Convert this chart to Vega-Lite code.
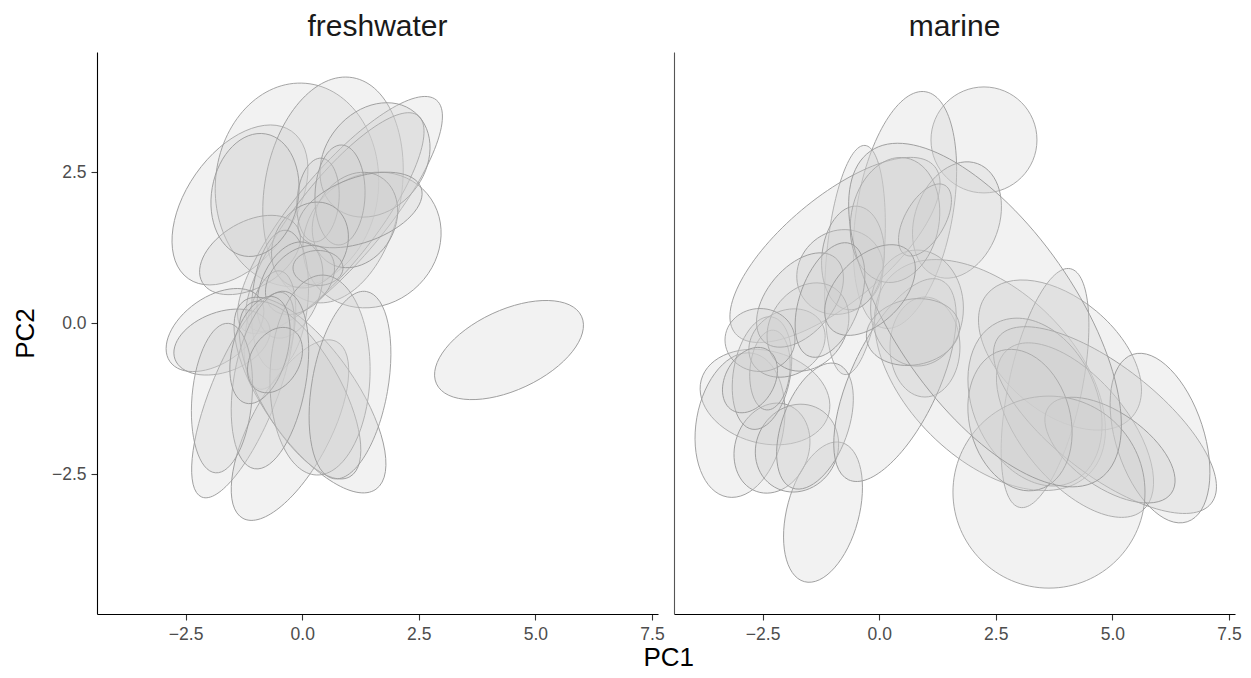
{
  "$schema": "https://vega.github.io/schema/vega-lite/v6.json",
  "padding": {"left": 12, "top": 12, "right": 13, "bottom": 7},
  "background": "white",
  "bounds": "flush",
  "spacing": 16,
  "config": {
    "view": {"stroke": null},
    "font": "Liberation Sans",
    "axis": {"grid": false, "domainColor": "#000000", "domainWidth": 1.1, "tickColor": "#333333", "tickSize": 6, "tickWidth": 1.1, "labelFont": "Liberation Sans", "labelFontSize": 17.5, "labelColor": "#4d4d4d", "labelPadding": 5, "titleFont": "Liberation Sans", "titleFontSize": 26, "titleFontWeight": "normal", "titleColor": "#000000"},
    "title": {"font": "Liberation Sans", "fontWeight": "normal"}
  },
  "title": {"text": "PC1", "orient": "bottom", "anchor": "middle", "frame": "bounds", "dx": 42, "fontSize": 26, "color": "#000000", "offset": 2},
  "data": {"values": [
    {"habitat":"freshwater","pc1":-1.334,"pc2":1.959,"len":3.860,"ratio":"0.6","tilt":55},
    {"habitat":"freshwater","pc1":-0.112,"pc2":2.290,"len":4.375,"ratio":"0.8","tilt":85},
    {"habitat":"freshwater","pc1":0.661,"pc2":2.207,"len":4.890,"ratio":"0.6","tilt":80},
    {"habitat":"freshwater","pc1":0.811,"pc2":1.793,"len":6.434,"ratio":"0.3","tilt":50},
    {"habitat":"freshwater","pc1":0.703,"pc2":1.677,"len":5.790,"ratio":"0.3","tilt":52},
    {"habitat":"freshwater","pc1":1.497,"pc2":1.379,"len":3.088,"ratio":"0.9","tilt":40},
    {"habitat":"freshwater","pc1":1.561,"pc2":2.704,"len":2.659,"ratio":"0.8","tilt":50},
    {"habitat":"freshwater","pc1":1.132,"pc2":1.710,"len":2.145,"ratio":"0.8","tilt":60},
    {"habitat":"freshwater","pc1":0.339,"pc2":2.041,"len":1.801,"ratio":"0.5","tilt":85},
    {"habitat":"freshwater","pc1":0.811,"pc2":2.124,"len":2.145,"ratio":"0.5","tilt":88},
    {"habitat":"freshwater","pc1":1.240,"pc2":1.876,"len":2.788,"ratio":"0.5","tilt":20},
    {"habitat":"freshwater","pc1":-1.119,"pc2":1.131,"len":2.359,"ratio":"0.6","tilt":30},
    {"habitat":"freshwater","pc1":0.167,"pc2":1.296,"len":1.930,"ratio":"0.8","tilt":60},
    {"habitat":"freshwater","pc1":-0.476,"pc2":0.386,"len":3.002,"ratio":"0.4","tilt":85},
    {"habitat":"freshwater","pc1":-0.691,"pc2":-0.111,"len":2.573,"ratio":"0.4","tilt":80},
    {"habitat":"freshwater","pc1":-0.262,"pc2":0.551,"len":2.145,"ratio":"0.6","tilt":70},
    {"habitat":"freshwater","pc1":-0.047,"pc2":0.717,"len":1.716,"ratio":"0.7","tilt":45},
    {"habitat":"freshwater","pc1":0.339,"pc2":0.916,"len":1.072,"ratio":"0.7","tilt":0},
    {"habitat":"freshwater","pc1":-1.870,"pc2":-0.111,"len":2.359,"ratio":"0.6","tilt":35},
    {"habitat":"freshwater","pc1":-1.720,"pc2":-0.310,"len":2.145,"ratio":"0.6","tilt":20},
    {"habitat":"freshwater","pc1":-1.270,"pc2":-1.187,"len":4.718,"ratio":"0.3","tilt":68},
    {"habitat":"freshwater","pc1":-0.262,"pc2":-1.767,"len":4.289,"ratio":"0.4","tilt":62},
    {"habitat":"freshwater","pc1":0.167,"pc2":-1.187,"len":4.932,"ratio":"0.4","tilt":-55},
    {"habitat":"freshwater","pc1":-0.047,"pc2":-1.104,"len":4.289,"ratio":"0.4","tilt":-60},
    {"habitat":"freshwater","pc1":0.382,"pc2":-0.856,"len":4.289,"ratio":"0.5","tilt":88},
    {"habitat":"freshwater","pc1":-0.691,"pc2":-0.939,"len":3.860,"ratio":"0.4","tilt":80},
    {"habitat":"freshwater","pc1":-1.720,"pc2":-1.237,"len":3.217,"ratio":"0.4","tilt":85},
    {"habitat":"freshwater","pc1":-0.905,"pc2":-0.442,"len":2.359,"ratio":"0.5","tilt":75},
    {"habitat":"freshwater","pc1":-0.583,"pc2":-0.608,"len":1.501,"ratio":"0.7","tilt":60},
    {"habitat":"freshwater","pc1":-1.012,"pc2":2.124,"len":2.659,"ratio":"0.7","tilt":80},
    {"habitat":"freshwater","pc1":1.025,"pc2":-1.022,"len":4.075,"ratio":"0.4","tilt":80},
    {"habitat":"freshwater","pc1":4.435,"pc2":-0.442,"len":3.431,"ratio":"0.5","tilt":25},
    {"habitat":"marine","pc1":2.247,"pc2":3.035,"len":2.273,"ratio":"1","tilt":90},
    {"habitat":"marine","pc1":0.553,"pc2":1.876,"len":5.147,"ratio":"0.4","tilt":80},
    {"habitat":"marine","pc1":-0.519,"pc2":1.048,"len":4.932,"ratio":"0.25","tilt":85},
    {"habitat":"marine","pc1":-0.948,"pc2":1.214,"len":5.576,"ratio":"0.4","tilt":40},
    {"habitat":"marine","pc1":1.668,"pc2":1.710,"len":2.573,"ratio":"0.7","tilt":70},
    {"habitat":"marine","pc1":2.376,"pc2":-0.856,"len":6.005,"ratio":"0.6","tilt":-45},
    {"habitat":"marine","pc1":3.877,"pc2":-0.525,"len":4.075,"ratio":"0.6","tilt":-40},
    {"habitat":"marine","pc1":3.556,"pc2":-1.071,"len":5.233,"ratio":"0.3","tilt":78},
    {"habitat":"marine","pc1":3.341,"pc2":-1.303,"len":3.774,"ratio":"0.7","tilt":-65},
    {"habitat":"marine","pc1":4.199,"pc2":-1.767,"len":4.504,"ratio":"0.5","tilt":-50},
    {"habitat":"marine","pc1":4.842,"pc2":-1.601,"len":5.790,"ratio":"0.4","tilt":-38},
    {"habitat":"marine","pc1":6.022,"pc2":-1.899,"len":3.774,"ratio":"0.5","tilt":-72},
    {"habitat":"marine","pc1":4.949,"pc2":-2.098,"len":3.217,"ratio":"0.5","tilt":-35},
    {"habitat":"marine","pc1":3.641,"pc2":-2.793,"len":4.118,"ratio":"1","tilt":0},
    {"habitat":"marine","pc1":0.982,"pc2":-0.392,"len":2.145,"ratio":"0.7","tilt":90},
    {"habitat":"marine","pc1":-1.205,"pc2":-3.124,"len":3.088,"ratio":"0.5","tilt":75},
    {"habitat":"marine","pc1":-2.449,"pc2":-1.220,"len":2.831,"ratio":"0.7","tilt":-15},
    {"habitat":"marine","pc1":-2.985,"pc2":-1.684,"len":3.131,"ratio":"0.6","tilt":80},
    {"habitat":"marine","pc1":-2.299,"pc2":-2.065,"len":1.973,"ratio":"0.8","tilt":70},
    {"habitat":"marine","pc1":-1.763,"pc2":-2.065,"len":1.930,"ratio":"0.9","tilt":60},
    {"habitat":"marine","pc1":-1.377,"pc2":-1.700,"len":2.831,"ratio":"0.5","tilt":70},
    {"habitat":"marine","pc1":-2.513,"pc2":-0.823,"len":2.445,"ratio":"0.5","tilt":80},
    {"habitat":"marine","pc1":-2.342,"pc2":-0.773,"len":1.716,"ratio":"0.5","tilt":85},
    {"habitat":"marine","pc1":0.339,"pc2":-0.939,"len":4.718,"ratio":"0.4","tilt":65},
    {"habitat":"marine","pc1":-0.841,"pc2":0.849,"len":1.930,"ratio":"0.9","tilt":40},
    {"habitat":"marine","pc1":-0.562,"pc2":1.081,"len":2.230,"ratio":"0.6","tilt":85},
    {"habitat":"marine","pc1":0.811,"pc2":0.253,"len":2.488,"ratio":"0.8","tilt":90},
    {"habitat":"marine","pc1":0.725,"pc2":-0.144,"len":2.016,"ratio":"0.7","tilt":10},
    {"habitat":"marine","pc1":-1.977,"pc2":-0.326,"len":1.716,"ratio":"0.8","tilt":30},
    {"habitat":"marine","pc1":-1.527,"pc2":-0.061,"len":2.016,"ratio":"0.8","tilt":55},
    {"habitat":"marine","pc1":0.339,"pc2":1.710,"len":2.702,"ratio":"0.7","tilt":80},
    {"habitat":"marine","pc1":0.982,"pc2":1.710,"len":1.716,"ratio":"0.5","tilt":60},
    {"habitat":"marine","pc1":3.019,"pc2":-1.601,"len":3.088,"ratio":"0.7","tilt":-75},
    {"habitat":"marine","pc1":2.269,"pc2":0.137,"len":8.578,"ratio":"0.45","tilt":-55},
    {"habitat":"marine","pc1":-1.698,"pc2":0.386,"len":2.359,"ratio":"0.6","tilt":50},
    {"habitat":"marine","pc1":-1.055,"pc2":0.386,"len":2.573,"ratio":"0.5","tilt":70},
    {"habitat":"marine","pc1":-2.556,"pc2":-0.276,"len":1.501,"ratio":"0.9","tilt":0},
    {"habitat":"marine","pc1":-0.197,"pc2":0.551,"len":2.359,"ratio":"0.6","tilt":45},
    {"habitat":"marine","pc1":-2.771,"pc2":-0.939,"len":1.501,"ratio":"0.7","tilt":60}
  ]},
  "hconcat": [
    {
      "width": 561, "height": 562,
      "title": {"text": "freshwater", "fontSize": 30, "color": "#1a1a1a", "offset": 10},
      "transform": [{"filter": "datum.habitat === 'freshwater'"}],
      "mark": {"type": "point", "filled": true, "fill": "#cfcfcf", "fillOpacity": 0.28, "stroke": "#9a9a9a", "strokeWidth": 0.85, "strokeOpacity": 1, "opacity": 1},
      "encoding": {
        "x": {"field": "pc1", "type": "quantitative", "scale": {"domain": [-4.40, 7.63], "nice": false, "zero": false}, "axis": {"values": [-2.5, 0, 2.5, 5, 7.5], "format": ".1f", "title": null}},
        "y": {"field": "pc2", "type": "quantitative", "scale": {"domain": [-4.81, 4.49], "nice": false, "zero": false}, "axis": {"values": [-2.5, 0, 2.5], "format": ".1f", "title": "PC2", "titlePadding": 13}},
        "size": {"field": "len", "type": "quantitative", "scale": {"type": "pow", "exponent": 2, "domain": [0, 10], "range": [0, 217436]}, "legend": null},
        "shape": {"field": "ratio", "type": "nominal", "legend": null, "scale": {"domain": ["1", "0.9", "0.8", "0.7", "0.6", "0.5", "0.45", "0.4", "0.3", "0.25"], "range": [
          "M1,0C1,0.5523 0.5523,1 0,1C-0.5523,1 -1,0.5523 -1,0C-1,-0.5523 -0.5523,-1 0,-1C0.5523,-1 1,-0.5523 1,0Z",
          "M1,0C1,0.4971 0.5523,0.9 0,0.9C-0.5523,0.9 -1,0.4971 -1,0C-1,-0.4971 -0.5523,-0.9 0,-0.9C0.5523,-0.9 1,-0.4971 1,0Z",
          "M1,0C1,0.4418 0.5523,0.8 0,0.8C-0.5523,0.8 -1,0.4418 -1,0C-1,-0.4418 -0.5523,-0.8 0,-0.8C0.5523,-0.8 1,-0.4418 1,0Z",
          "M1,0C1,0.3866 0.5523,0.7 0,0.7C-0.5523,0.7 -1,0.3866 -1,0C-1,-0.3866 -0.5523,-0.7 0,-0.7C0.5523,-0.7 1,-0.3866 1,0Z",
          "M1,0C1,0.3314 0.5523,0.6 0,0.6C-0.5523,0.6 -1,0.3314 -1,0C-1,-0.3314 -0.5523,-0.6 0,-0.6C0.5523,-0.6 1,-0.3314 1,0Z",
          "M1,0C1,0.2762 0.5523,0.5 0,0.5C-0.5523,0.5 -1,0.2762 -1,0C-1,-0.2762 -0.5523,-0.5 0,-0.5C0.5523,-0.5 1,-0.2762 1,0Z",
          "M1,0C1,0.2485 0.5523,0.45 0,0.45C-0.5523,0.45 -1,0.2485 -1,0C-1,-0.2485 -0.5523,-0.45 0,-0.45C0.5523,-0.45 1,-0.2485 1,0Z",
          "M1,0C1,0.2209 0.5523,0.4 0,0.4C-0.5523,0.4 -1,0.2209 -1,0C-1,-0.2209 -0.5523,-0.4 0,-0.4C0.5523,-0.4 1,-0.2209 1,0Z",
          "M1,0C1,0.1657 0.5523,0.3 0,0.3C-0.5523,0.3 -1,0.1657 -1,0C-1,-0.1657 -0.5523,-0.3 0,-0.3C0.5523,-0.3 1,-0.1657 1,0Z",
          "M1,0C1,0.1381 0.5523,0.25 0,0.25C-0.5523,0.25 -1,0.1381 -1,0C-1,-0.1381 -0.5523,-0.25 0,-0.25C0.5523,-0.25 1,-0.1381 1,0Z"
        ]}},
        "angle": {"field": "tilt", "type": "quantitative", "scale": {"domain": [-90, 90], "range": [90, -90]}, "legend": null}
      }
    },
    {
      "width": 561, "height": 562,
      "title": {"text": "marine", "fontSize": 30, "color": "#1a1a1a", "offset": 10},
      "transform": [{"filter": "datum.habitat === 'marine'"}],
      "mark": {"type": "point", "filled": true, "fill": "#cfcfcf", "fillOpacity": 0.28, "stroke": "#9a9a9a", "strokeWidth": 0.85, "strokeOpacity": 1, "opacity": 1},
      "encoding": {
        "x": {"field": "pc1", "type": "quantitative", "scale": {"domain": [-4.40, 7.63], "nice": false, "zero": false}, "axis": {"values": [-2.5, 0, 2.5, 5, 7.5], "format": ".1f", "title": null}},
        "y": {"field": "pc2", "type": "quantitative", "scale": {"domain": [-4.81, 4.49], "nice": false, "zero": false}, "axis": {"labels": false, "ticks": false, "title": null, "domainColor": "#555555"}},
        "size": {"field": "len", "type": "quantitative", "scale": {"type": "pow", "exponent": 2, "domain": [0, 10], "range": [0, 217436]}, "legend": null},
        "shape": {"field": "ratio", "type": "nominal", "legend": null, "scale": {"domain": ["1", "0.9", "0.8", "0.7", "0.6", "0.5", "0.45", "0.4", "0.3", "0.25"], "range": [
          "M1,0C1,0.5523 0.5523,1 0,1C-0.5523,1 -1,0.5523 -1,0C-1,-0.5523 -0.5523,-1 0,-1C0.5523,-1 1,-0.5523 1,0Z",
          "M1,0C1,0.4971 0.5523,0.9 0,0.9C-0.5523,0.9 -1,0.4971 -1,0C-1,-0.4971 -0.5523,-0.9 0,-0.9C0.5523,-0.9 1,-0.4971 1,0Z",
          "M1,0C1,0.4418 0.5523,0.8 0,0.8C-0.5523,0.8 -1,0.4418 -1,0C-1,-0.4418 -0.5523,-0.8 0,-0.8C0.5523,-0.8 1,-0.4418 1,0Z",
          "M1,0C1,0.3866 0.5523,0.7 0,0.7C-0.5523,0.7 -1,0.3866 -1,0C-1,-0.3866 -0.5523,-0.7 0,-0.7C0.5523,-0.7 1,-0.3866 1,0Z",
          "M1,0C1,0.3314 0.5523,0.6 0,0.6C-0.5523,0.6 -1,0.3314 -1,0C-1,-0.3314 -0.5523,-0.6 0,-0.6C0.5523,-0.6 1,-0.3314 1,0Z",
          "M1,0C1,0.2762 0.5523,0.5 0,0.5C-0.5523,0.5 -1,0.2762 -1,0C-1,-0.2762 -0.5523,-0.5 0,-0.5C0.5523,-0.5 1,-0.2762 1,0Z",
          "M1,0C1,0.2485 0.5523,0.45 0,0.45C-0.5523,0.45 -1,0.2485 -1,0C-1,-0.2485 -0.5523,-0.45 0,-0.45C0.5523,-0.45 1,-0.2485 1,0Z",
          "M1,0C1,0.2209 0.5523,0.4 0,0.4C-0.5523,0.4 -1,0.2209 -1,0C-1,-0.2209 -0.5523,-0.4 0,-0.4C0.5523,-0.4 1,-0.2209 1,0Z",
          "M1,0C1,0.1657 0.5523,0.3 0,0.3C-0.5523,0.3 -1,0.1657 -1,0C-1,-0.1657 -0.5523,-0.3 0,-0.3C0.5523,-0.3 1,-0.1657 1,0Z",
          "M1,0C1,0.1381 0.5523,0.25 0,0.25C-0.5523,0.25 -1,0.1381 -1,0C-1,-0.1381 -0.5523,-0.25 0,-0.25C0.5523,-0.25 1,-0.1381 1,0Z"
        ]}},
        "angle": {"field": "tilt", "type": "quantitative", "scale": {"domain": [-90, 90], "range": [90, -90]}, "legend": null}
      }
    }
  ]
}
